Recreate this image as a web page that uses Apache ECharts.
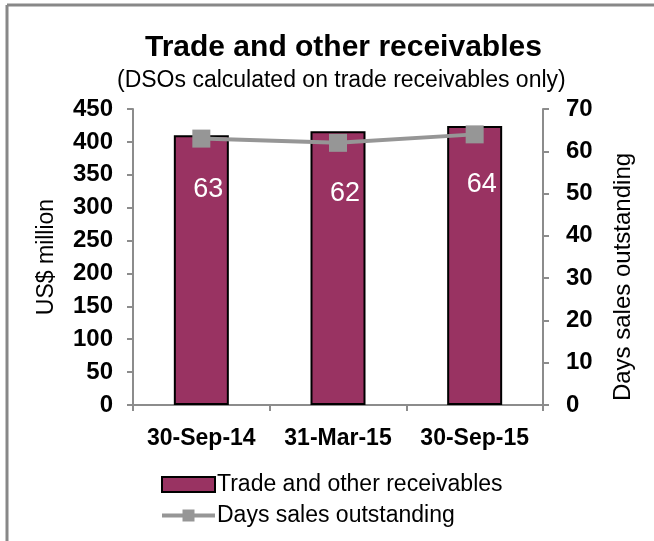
<!DOCTYPE html>
<html>
<head>
<meta charset="utf-8">
<script src="https://cdn.jsdelivr.net/npm/echarts@6/dist/echarts.min.js"></script>
<style>
  html, body { margin: 0; padding: 0; background: #fff; }
  #chart { width: 654px; height: 541px; }
</style>
</head>
<body>
<div id="chart"></div>
<script>
// Period ends
const categories = ['30-Sep-14', '31-Mar-15', '30-Sep-15'];
// Trade and other receivables, US$ million
const receivables = [410, 416, 424];
// Days sales outstanding
const dso = [63, 62, 64];

const chart = echarts.init(document.getElementById('chart'));
const FONT = 'Liberation Sans, Arial, sans-serif';
const axisGray = '#8c8c8c';

chart.setOption({
  animation: false,
  backgroundColor: '#fff',
  title: [{
    text: 'Trade and other receivables',
    left: 140,
    top: 28,
    textStyle: { fontFamily: FONT, fontSize: 30, fontWeight: 'bold', color: '#000' }
  }, {
    text: '(DSOs calculated on trade receivables only)',
    left: 112,
    top: 64,
    textStyle: { fontFamily: FONT, fontSize: 23, fontWeight: 'normal', color: '#000' }
  }],
  graphic: [
    { type: 'line', shape: { x1: 7, y1: 5, x2: 654, y2: 5 }, style: { stroke: '#888', lineWidth: 3 } },
    { type: 'line', shape: { x1: 7, y1: 5, x2: 7, y2: 541 }, style: { stroke: '#888', lineWidth: 3 } },
    {
      type: 'text',
      x: 623, y: 277,
      rotation: Math.PI / 2,
      style: {
        text: 'Days sales outstanding',
        font: '24px ' + FONT,
        fill: '#000',
        align: 'center',
        verticalAlign: 'middle'
      }
    }
  ],
  legend: {
    orient: 'vertical',
    left: 155,
    top: 468,
    itemGap: 8,
    itemWidth: 53,
    itemHeight: 15,
    textStyle: { fontFamily: FONT, fontSize: 23, color: '#000', padding: [0, 0, 0, -3] },
    data: [
      { name: 'Trade and other receivables', icon: 'rect' },
      { name: 'Days sales outstanding', lineStyle: { width: 4 } }
    ]
  },
  grid: { left: 133, right: 111, top: 109, bottom: 136 },
  xAxis: {
    type: 'category',
    data: categories,
    axisLine: { lineStyle: { color: axisGray, width: 2 } },
    axisTick: { show: true, length: 6, lineStyle: { color: axisGray, width: 2 } },
    axisLabel: { interval: 0, fontFamily: FONT, fontSize: 23, fontWeight: 'bold', color: '#000', margin: 22 }
  },
  yAxis: [{
    type: 'value',
    min: 0, max: 450, interval: 50,
    name: 'US$ million',
    nameLocation: 'middle',
    nameGap: 75,
    nameTextStyle: { fontFamily: FONT, fontSize: 23, color: '#000' },
    axisLine: { show: true, lineStyle: { color: axisGray, width: 2 } },
    axisTick: { show: true, length: 6, lineStyle: { color: axisGray, width: 2 } },
    splitLine: { show: false },
    axisLabel: { fontFamily: FONT, fontSize: 24, fontWeight: 'bold', color: '#000', margin: 20 }
  }, {
    type: 'value',
    min: 0, max: 70, interval: 10,
    axisLine: { show: true, lineStyle: { color: axisGray, width: 2 } },
    axisTick: { show: true, length: 6, lineStyle: { color: axisGray, width: 2 } },
    splitLine: { show: false },
    axisLabel: { fontFamily: FONT, fontSize: 24, fontWeight: 'bold', color: '#000', margin: 23 }
  }],
  series: [{
    name: 'Trade and other receivables',
    type: 'bar',
    data: receivables,
    barWidth: 55,
    itemStyle: { color: '#993362', borderColor: '#000', borderWidth: 2 }
  }, {
    name: 'Days sales outstanding',
    type: 'line',
    yAxisIndex: 1,
    data: dso,
    symbol: 'rect',
    symbolSize: 18,
    lineStyle: { color: '#969696', width: 4 },
    itemStyle: { color: '#969696' },
    label: {
      show: true,
      position: 'bottom',
      distance: 28,
      offset: [7, 0],
      color: '#fff',
      fontFamily: FONT,
      fontSize: 27
    }
  }]
});
</script>
</body>
</html>
